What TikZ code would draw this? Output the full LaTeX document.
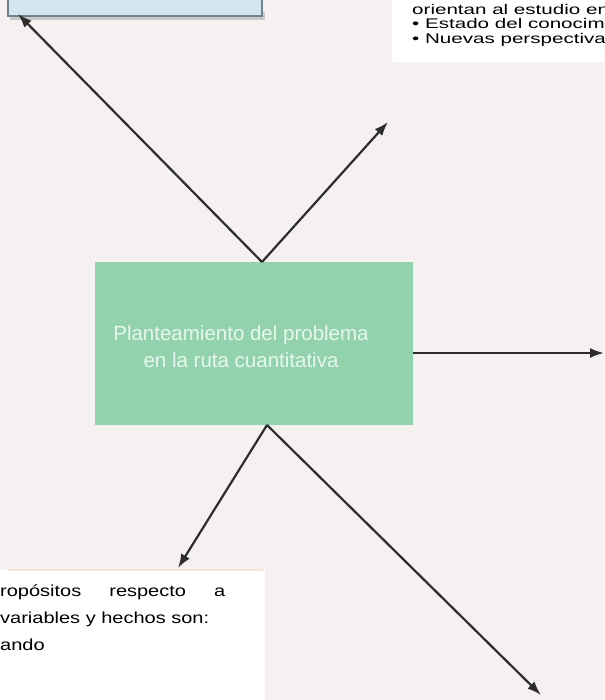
\documentclass[tikz,border=0pt]{standalone}
\usepackage{fontspec}
\setmainfont{Liberation Sans}
\newfontfamily\widesans[FakeStretch=1.25]{Liberation Sans}
\newfontfamily\widersans[FakeStretch=1.47]{Liberation Sans}
\usetikzlibrary{arrows.meta}
\definecolor{papel}{RGB}{245,241,241}
\definecolor{verde}{RGB}{146,210,172}
\definecolor{verdetxt}{RGB}{232,247,238}
\definecolor{azul}{RGB}{210,229,240}
\definecolor{azulborde}{RGB}{112,130,140}
\definecolor{sombra}{RGB}{200,200,200}
\definecolor{flecha}{RGB}{45,45,45}
\definecolor{amarillo}{RGB}{238,233,205}

\begin{document}
\begin{tikzpicture}[x=1pt, y=-1pt, caja/.style={rectangle, inner sep=0pt, outer sep=0pt}, texto/.style={inner sep=0pt, align=left, anchor=north west, text=black}, n/.style={-{Latex[length=14pt, width=10pt]}, line width=2.2pt, draw=flecha}]
            % page
            \useasboundingbox (0,0) rectangle (604,700);
            \clip (0,0) rectangle (604,700);
            \fill[papel] (0,0) rectangle (604,700);
            \fill[white] (392,0) rectangle (604,62);
            \fill[white] (0,570) rectangle (265,700);
            \draw[amarillo, line width=2pt] (8,570) -- (263,570);
            % nodes
            \fill[sombra] (10,12) rectangle (265,20);
            \node[caja, fill=azul, draw=azulborde, line width=2pt, minimum width=254pt, minimum height=30pt] (metas) at (135,1) {};
            \node[caja, fill=verde, minimum width=318pt, minimum height=163pt] (plan) at (254,343.5) {};
            \node[font=\fontsize{20.5}{27}\selectfont, text=verdetxt, align=center] (plantxt) at (241,347) {Planteamiento del problema\\en la ruta cuantitativa};
            \node[texto, font=\widersans\fontsize{14}{14.5}\selectfont] (objetivos) at (412,4) {orientan al estudio en\\• Estado del conocim\\• Nuevas perspectiva};
            \node[texto, font=\widesans\fontsize{16}{27}\selectfont] (propositos) at (0,585) {\makebox[225pt][s]{ropósitos respecto a}\\variables y hechos son:\\ando};
            \coordinate (arr) at ([xshift=8pt]plan.north);
            \coordinate (aba) at ([xshift=13pt]plan.south);
            \coordinate (p1) at (18,14);
            \coordinate (p2) at (388,122);
            \coordinate (p3) at (604,353);
            \coordinate (p4) at (178,568);
            \coordinate (p5) at (541,695);
            % edges
            \draw [n] (arr) -- (p1);
            \draw [n] (arr) -- (p2);
            \draw [n] (plan.east |- p3) -- (p3);
            \draw [n] (aba) -- (p4);
            \draw [n] (aba) -- (p5);
        \end{tikzpicture}
\end{document}
